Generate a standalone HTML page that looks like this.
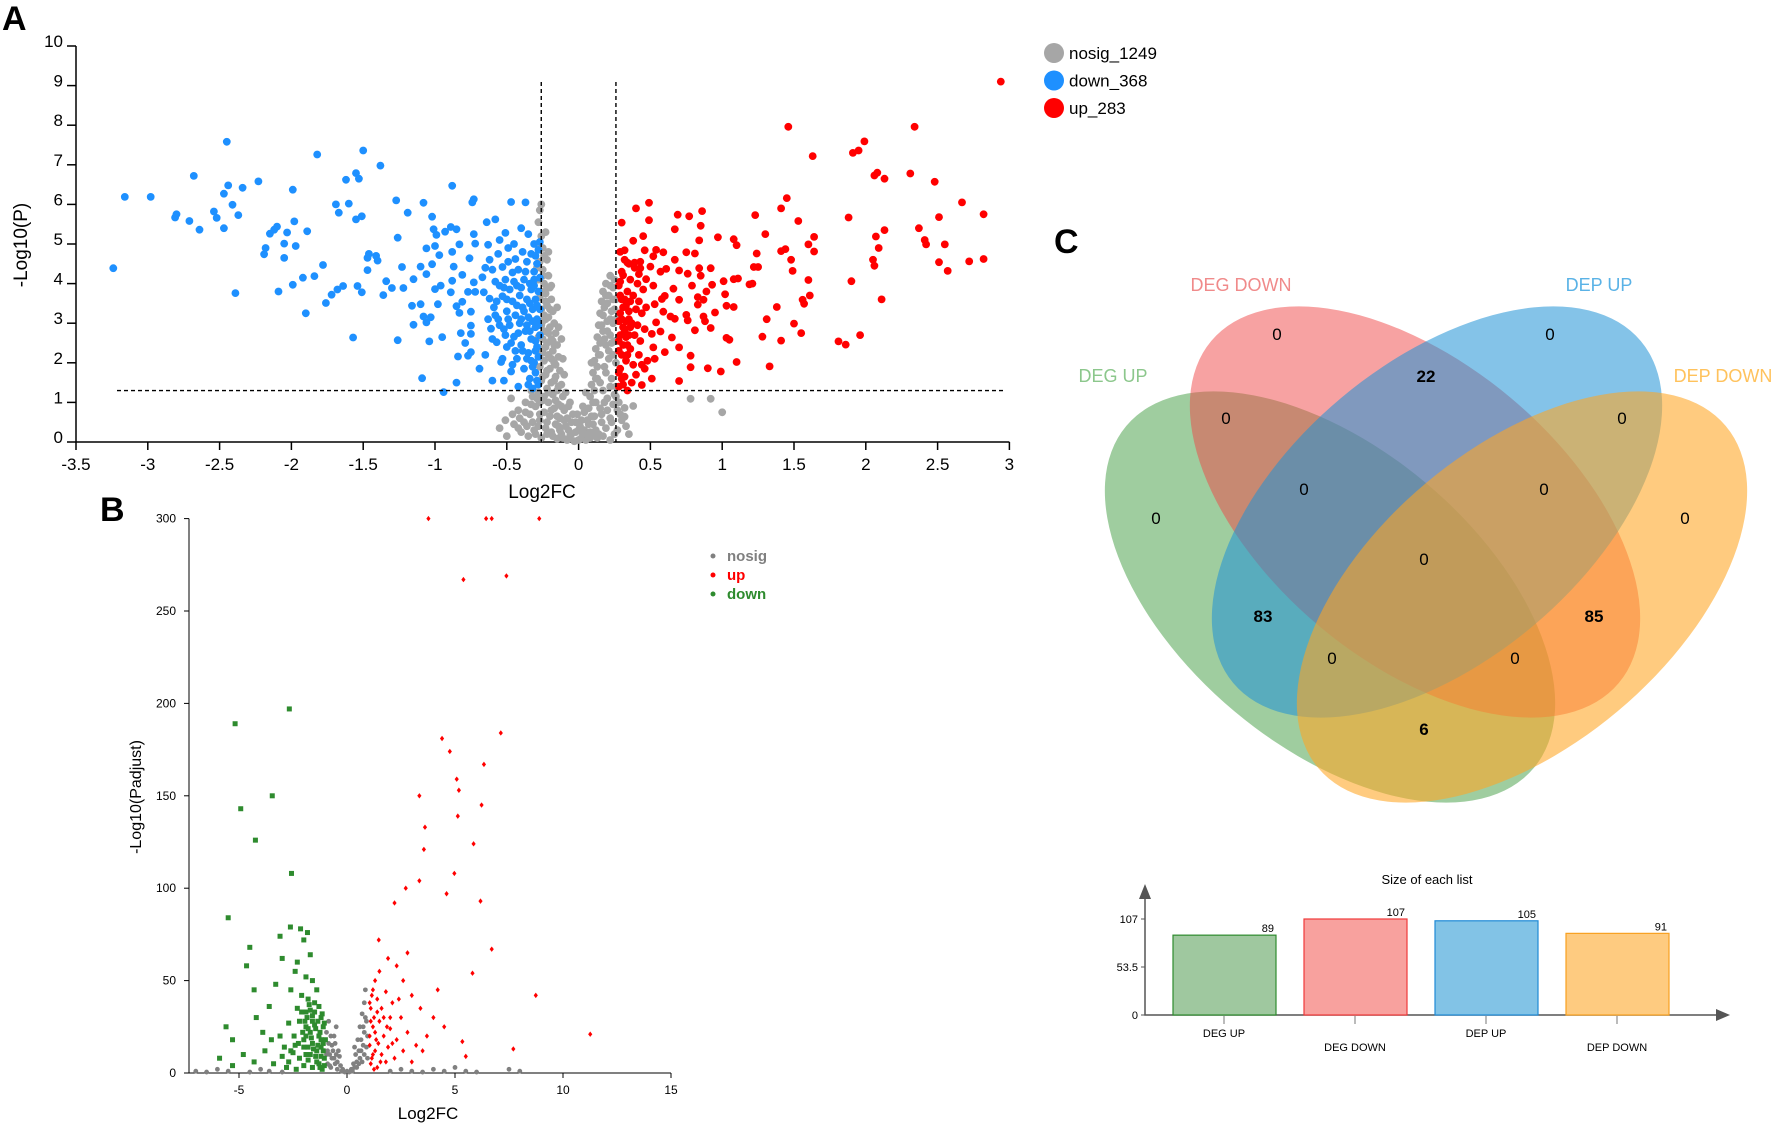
<!DOCTYPE html>
<html><head><meta charset="utf-8"><style>
html,body{margin:0;padding:0;background:#fff;}
svg{display:block;font-family:"Liberation Sans",sans-serif;}
</style></head><body>
<svg id="fig" width="1772" height="1126" viewBox="0 0 1772 1126" xmlns="http://www.w3.org/2000/svg">
<rect width="1772" height="1126" fill="#fff"/>
<text x="2" y="30" font-size="34" font-weight="bold">A</text>
<text x="100" y="521" font-size="34" font-weight="bold">B</text>
<text x="1054" y="253" font-size="34" font-weight="bold">C</text>
<g id="pa"></g>
<g id="pb"></g>
<g id="pc"></g>
<g id="pd"></g>
</svg>
<script>
// ---------- Panel A data ----------
const aXTicks = [-3.5,-3,-2.5,-2,-1.5,-1,-0.5,0,0.5,1,1.5,2,2.5,3];
const aYTicks = [0,1,2,3,4,5,6,7,8,9,10];
const aThresholdX = [-0.26, 0.26];
const aThresholdY = 1.3;
const aLegend = ["nosig_1249","down_368","up_283"];
const aDown = "-3.24,4.39 -3.16,6.19 -2.98,6.19 -2.81,5.67 -2.80,5.75 -2.71,5.58 -2.68,6.72 -2.64,5.36 -2.54,5.82 -2.52,5.66 -2.47,6.27 -2.47,5.40 -2.45,7.58 -2.44,6.48 -2.41,5.99 -2.39,3.76 -2.37,5.73 -2.34,6.42 -2.23,6.58 -2.19,4.74 -2.18,4.90 -2.15,5.26 -2.12,5.36 -2.10,5.44 -2.09,3.80 -2.05,5.01 -2.05,4.65 -2.03,5.29 -1.99,6.37 -1.99,3.97 -1.98,5.57 -1.97,4.95 -1.92,4.15 -1.90,3.25 -1.89,5.32 -1.84,4.19 -1.82,7.26 -1.78,4.47 -1.76,3.51 -1.72,3.72 -1.69,6.00 -1.67,5.79 -1.68,3.85 -1.64,3.94 -1.62,6.62 -1.60,6.02 -1.57,2.64 -1.55,6.79 -1.53,6.65 -1.55,5.62 -1.51,5.70 -1.54,3.94 -1.51,3.78 -1.50,7.36 -1.47,4.65 -1.46,4.75 -1.47,4.34 -1.41,4.70 -1.40,4.58 -1.38,6.98 -1.36,3.71 -1.34,4.06 -1.30,3.89 -1.27,6.10 -1.26,5.16 -1.26,2.57 -1.23,4.42 -1.22,3.89 -1.19,5.79 -1.16,3.44 -1.15,4.11 -1.15,2.96 -1.10,4.43 -1.10,3.48 -1.09,1.61 -1.08,6.04 -1.08,3.17 -1.06,4.89 -1.06,3.02 -1.03,3.15 -1.04,2.54 -1.02,5.69 -1.01,5.37 -1.00,4.95 -0.99,5.23 -1.02,4.49 -1.06,4.24 -1.00,3.86 -0.98,3.48 -0.97,4.72 -0.96,3.95 -0.95,2.65 -0.94,1.26 -0.93,5.31 -0.89,5.43 -0.88,6.47 -0.88,4.80 -0.87,4.43 -0.88,4.07 -0.89,3.78 -0.85,3.43 -0.85,5.37 -0.85,1.50 -0.84,2.16 -0.83,4.99 -0.83,3.26 -0.82,2.75 -0.81,4.22 -0.81,3.54 -0.79,2.50 -0.77,2.18 -0.77,3.79 -0.76,4.64 -0.75,3.29 -0.75,2.73 -0.74,6.05 -0.73,6.13 -0.75,2.94 -0.75,2.27 -0.73,4.03 -0.73,5.25 -0.72,5.01 -0.72,3.79 -0.69,1.85 -0.67,4.16 -0.66,3.78 -0.65,2.20 -0.64,5.55 -0.63,4.98 -0.62,4.60 -0.62,3.62 -0.61,2.86 -0.60,1.55 -0.60,4.35 -0.59,3.40 -0.58,5.62 -0.58,4.05 -0.57,2.52 -0.56,4.75 -0.56,3.10 -0.55,5.10 -0.55,3.95 -0.54,2.02 -0.53,4.42 -0.53,3.68 -0.52,1.55 -0.52,2.85 -0.51,5.28 -0.51,4.10 -0.50,3.30 -0.50,2.40 -0.49,4.90 -0.49,4.55 -0.48,3.85 -0.48,2.95 -0.47,6.06 -0.47,1.78 -0.46,4.28 -0.46,3.55 -0.45,2.66 -0.45,5.00 -0.44,3.20 -0.44,4.62 -0.43,2.10 -0.43,3.95 -0.42,1.40 -0.42,4.35 -0.41,3.00 -0.41,3.70 -0.40,2.45 -0.40,5.40 -0.39,4.80 -0.39,3.40 -0.38,1.85 -0.38,4.10 -0.37,2.80 -0.37,6.05 -0.36,3.60 -0.36,4.55 -0.35,2.25 -0.35,5.25 -0.35,3.15 -0.34,1.60 -0.34,4.00 -0.33,2.60 -0.33,3.85 -0.33,4.75 -0.32,1.35 -0.32,3.35 -0.31,2.00 -0.31,4.30 -0.31,5.00 -0.30,2.90 -0.30,3.60 -0.30,1.75 -0.29,4.50 -0.29,2.40 -0.29,3.10 -0.28,4.85 -0.28,3.80 -0.28,2.15 -0.28,1.45 -0.27,2.70 -0.27,3.35 -0.27,4.15 -0.27,5.05 -0.36,2.95 -0.40,3.90 -0.44,2.30 -0.46,1.95 -0.50,3.60 -0.53,2.10 -0.57,3.55 -0.33,2.05 -0.31,3.95 -0.38,3.30 -0.42,2.75 -0.35,1.45 -0.30,2.30 -0.34,3.50 -0.30,2.55 -0.32,3.05 -0.29,3.45 -0.31,4.10 -0.29,1.55 -0.32,1.90 -0.28,2.95 -0.30,4.70 -0.34,2.80 -0.36,2.10 -0.37,4.30 -0.39,2.30 -0.40,3.10 -0.43,3.45 -0.45,4.05 -0.47,2.50 -0.49,3.10 -0.51,2.70 -0.52,3.90 -0.55,2.95 -0.58,3.20 -0.60,2.60 -0.63,3.10 -0.65,4.40";
const aUp = "1.46,7.96 2.34,7.96 1.63,7.22 1.99,7.59 1.91,7.30 1.95,7.36 2.08,6.80 2.06,6.73 2.13,6.65 2.31,6.78 2.48,6.57 2.67,6.05 2.82,5.75 2.82,4.62 2.72,4.56 2.57,4.32 2.51,4.54 2.55,4.99 2.51,5.68 2.37,5.40 2.41,5.10 2.42,4.99 2.13,5.35 2.07,5.19 2.09,4.90 2.05,4.60 2.06,4.45 1.88,5.67 1.90,4.06 2.11,3.60 1.96,2.70 1.81,2.54 1.86,2.46 1.45,6.16 1.41,5.90 1.53,5.58 1.23,5.73 1.30,5.25 1.64,5.18 1.60,4.99 1.64,4.81 1.41,4.82 1.44,4.87 1.48,4.60 1.49,4.32 1.24,4.76 1.22,4.42 1.25,4.42 1.19,3.98 1.21,4.00 1.60,4.09 1.61,3.70 1.56,3.59 1.57,3.49 1.38,3.41 1.31,3.10 1.50,2.99 1.55,2.75 1.28,2.66 1.41,2.56 1.33,1.91 1.10,2.02 0.99,1.78 0.90,1.86 0.78,1.89 0.78,2.18 0.70,1.54 1.03,2.63 1.05,2.58 1.08,5.12 1.10,4.97 0.97,5.17 1.08,4.11 1.11,4.13 1.01,4.06 1.02,3.73 1.03,3.44 1.08,3.41 0.93,3.97 0.95,3.27 0.92,2.88 0.87,3.17 0.88,3.05 0.89,3.80 0.87,3.59 0.83,3.47 0.83,3.66 0.85,4.20 0.84,4.39 0.86,5.83 0.85,5.46 0.84,5.09 0.92,4.39 0.77,5.70 0.69,5.74 0.67,5.37 0.67,4.60 0.75,4.79 0.81,4.76 0.76,4.25 0.79,3.95 0.70,3.59 0.66,3.87 0.75,3.21 0.76,3.07 0.81,2.82 0.65,2.64 0.70,2.39 0.67,3.11 0.64,3.17 0.70,4.33 0.61,4.37 0.49,6.04 0.40,5.90 0.49,5.60 0.45,5.20 0.38,5.08 0.30,5.54 0.46,4.84 0.54,4.85 0.59,4.79 0.52,4.69 0.32,4.84 0.34,4.53 0.39,4.53 0.31,4.21 0.43,4.39 0.50,4.43 0.57,4.30 0.42,4.24 0.47,4.11 0.52,3.95 0.58,3.61 0.60,3.69 0.53,3.48 0.59,3.29 0.54,3.02 0.57,2.79 0.51,2.73 0.52,2.39 0.60,2.27 0.53,2.10 0.46,1.85 0.51,1.60 0.44,1.44 0.34,1.30 0.28,1.40 0.29,1.85 0.30,2.20 0.28,2.55 0.31,2.90 0.29,3.25 0.30,3.60 0.28,3.95 0.30,4.30 0.32,1.65 0.33,2.05 0.34,2.45 0.32,2.80 0.35,3.10 0.33,3.45 0.34,3.80 0.36,4.10 0.37,1.50 0.38,1.95 0.36,2.35 0.39,2.70 0.37,3.00 0.40,3.35 0.38,3.70 0.41,4.00 0.42,2.20 0.43,2.55 0.41,2.95 0.44,3.25 0.42,3.55 0.45,3.85 0.46,2.85 0.47,3.40 0.40,1.70 0.29,2.70 0.31,3.40 0.28,3.05 0.33,3.05 0.35,2.70 0.30,1.60 0.36,3.55 0.32,4.60 0.29,4.80 0.48,2.05 0.44,1.95 0.39,4.40 0.35,4.50 0.43,4.55 0.28,2.30 0.29,3.70 0.31,2.45 0.30,3.10 0.32,3.60 0.28,1.75 0.33,2.65 0.35,3.30 0.31,1.45 0.29,4.05 0.34,2.20 0.36,2.90 2.94,9.10";
const aNosig = "-0.27,5.85 -0.28,5.55 -0.26,5.2 -0.29,5.0 -0.25,4.9 -0.24,4.7 -0.27,4.55 -0.22,4.6 -0.25,4.35 -0.21,4.2 -0.28,4.1 -0.24,4.0 -0.20,3.9 -0.23,3.75 -0.27,3.65 -0.19,3.6 -0.22,3.45 -0.26,3.35 -0.18,3.3 -0.21,3.15 -0.25,3.05 -0.17,3.0 -0.20,2.9 -0.24,2.8 -0.16,2.75 -0.28,2.65 -0.19,2.6 -0.22,2.5 -0.15,2.45 -0.26,2.35 -0.18,2.3 -0.21,2.2 -0.14,2.15 -0.24,2.05 -0.17,2.0 -0.27,1.9 -0.20,1.85 -0.13,1.8 -0.23,1.7 -0.16,1.65 -0.26,1.55 -0.19,1.5 -0.12,1.45 -0.22,1.35 -0.15,1.3 -0.28,1.25 -0.18,1.2 -0.11,1.15 -0.25,1.05 -0.21,1.0 -0.14,0.95 -0.30,0.9 -0.17,0.85 -0.10,0.8 -0.24,0.75 -0.34,0.7 -0.20,0.65 -0.13,0.6 -0.27,0.55 -0.38,0.5 -0.16,0.45 -0.09,0.4 -0.23,0.35 -0.31,0.3 -0.19,0.25 -0.12,0.2 -0.06,0.15 -0.26,0.1 -0.15,0.08 -0.08,0.05 -0.03,0.02 -0.45,0.45 -0.5,0.15 -0.55,0.35 -0.42,0.8 -0.47,1.1 -0.37,1.0 -0.33,1.3 -0.29,1.1 -0.32,0.5 -0.4,0.25 -0.35,0.15 -0.23,5.3 -0.26,6.0 -0.29,4.4 -0.23,3.1 -0.25,2.6 -0.17,2.45 -0.19,3.95 -0.21,4.8 -0.15,3.4 -0.14,2.9 -0.12,2.6 -0.11,2.1 -0.10,1.7 -0.09,1.25 -0.07,0.9 -0.05,0.5 -0.02,0.25 0.02,0.1 0.04,0.3 0.06,0.55 0.07,0.85 0.08,1.15 0.09,1.45 0.10,1.75 0.11,2.05 0.12,2.35 0.13,2.65 0.14,2.95 0.15,3.25 0.16,3.55 0.17,3.8 0.19,4.0 0.22,4.2 0.25,4.1 0.24,3.9 0.21,3.7 0.26,3.6 0.18,3.4 0.23,3.3 0.26,3.1 0.20,3.05 0.17,2.8 0.22,2.7 0.25,2.55 0.19,2.45 0.15,2.2 0.21,2.1 0.26,2.0 0.18,1.9 0.13,1.6 0.23,1.6 0.26,1.4 0.17,1.3 0.12,1.0 0.20,1.1 0.24,0.95 0.16,0.7 0.22,0.6 0.10,0.45 0.19,0.35 0.14,0.2 0.08,0.1 0.27,0.8 0.27,0.3 0.30,0.55 0.32,0.86 0.32,0.64 0.38,0.91 0.78,1.09 0.92,1.09 1.0,0.75 0.00,0.05 0.01,0.4 -0.01,0.7 0.03,0.9 0.05,1.25 0.06,0.15 0.11,0.65 0.15,1.5 0.18,2.6 0.24,3.0 0.2,3.5 0.09,2.0 0.1,0.2 -0.25,4.2 -0.22,3.9 -0.26,3.8 -0.23,3.55 -0.20,3.35 -0.24,3.2 -0.26,2.95 -0.21,2.75 -0.18,2.55 -0.23,2.4 -0.25,2.25 -0.19,2.1 -0.16,1.95 -0.22,1.8 -0.25,1.65 -0.17,1.55 -0.14,1.4 -0.21,1.25 -0.24,1.15 -0.16,1.05 -0.12,0.9 -0.19,0.8 -0.27,0.7 -0.22,0.5 -0.14,0.4 -0.07,0.3 -0.18,0.15 -0.11,0.1 -0.3,0.2 -0.36,0.4 -0.28,0.4 -0.41,0.6 -0.37,0.75 -0.33,0.95 -0.27,1.0 -0.32,1.15 -0.28,1.45 -0.42,0.35 -0.46,0.7 -0.51,0.55 -0.04,0.7 -0.05,0.2 0.0,0.3 0.02,0.55 0.04,0.75 0.05,0.05 0.07,0.45 0.09,0.65 0.10,1.0 0.11,1.3 0.12,1.6 0.13,1.9 0.14,2.2 0.15,2.5 0.16,2.95 0.17,3.2 0.19,3.7 0.22,3.95 0.24,3.6 0.25,3.35 0.22,3.1 0.20,2.8 0.23,2.5 0.21,2.3 0.24,2.2 0.19,1.75 0.22,1.4 0.25,1.2 0.18,1.0 0.15,0.85 0.20,0.8 0.23,0.5 0.16,0.5 0.12,0.3 0.17,0.15 0.25,0.2 0.22,0.05 0.03,0.2 -0.02,0.5 0.08,0.25 -0.08,0.6 -0.06,1.0 0.13,0.1 -0.10,0.55 0.28,1.0 0.29,0.7 0.26,1.15 0.33,0.4 0.35,0.2 -0.13,0.3 -0.15,0.65 -0.22,0.2";

// ---------- Panel B data ----------
const bXTicks = [-5,0,5,10,15];
const bYTicks = [0,50,100,150,200,250,300];
const bLegend = ["nosig","up","down"];
const bDown = "-5.18,189 -2.67,197 -3.46,150 -4.92,143 -4.24,126 -2.57,108 -5.5,84 -2.62,79 -1.83,76 -2.0,72 -4.5,68 -3.1,74 -2.15,78 -4.65,58 -3.0,62 -2.3,60 -1.7,64 -2.4,55 -1.9,52 -1.6,50 -4.3,45 -3.3,48 -2.6,45 -1.4,45 -2.1,42 -1.8,40 -1.5,38 -1.3,36 -2.3,35 -1.9,33 -1.6,31 -1.2,30 -3.6,36 -4.2,30 -5.6,25 -5.3,18 -3.9,22 -3.1,20 -2.7,27 -2.2,28 -1.9,25 -1.7,22 -1.5,26 -1.3,20 -1.1,25 -2.4,15 -2.0,18 -1.8,14 -1.6,16 -1.4,12 -1.2,14 -1.0,18 -5.9,8 -5.3,4 -4.8,10 -4.3,6 -3.8,12 -3.4,5 -3.0,9 -2.7,6 -2.5,11 -2.2,8 -2.0,4 -1.8,7 -1.6,3 -1.4,6 -1.2,9 -1.05,4 -1.1,12 -2.9,14 -3.5,18 -1.7,10 -1.35,28 -2.1,33 -1.75,37 -1.5,33 -1.25,22 -1.1,16 -1.05,8 -1.15,2 -1.3,5 -1.45,9 -1.55,13 -1.65,19 -1.8,24 -1.95,28 -2.05,22 -2.25,16 -2.45,20 -2.6,12 -2.8,3 -2.35,2 -1.9,10 -1.35,15 -1.2,18 -1.45,24 -1.6,28 -1.7,34 -1.85,30 -2.0,14 -1.25,3 -1.05,27 -1.15,32 -1.9,20";
const bUp = "3.77,300 6.44,300 6.7,300 8.9,300 5.39,267 7.38,269 7.12,184 4.4,181 4.76,174 6.34,167 5.08,159 5.18,153 3.35,150 6.23,145 5.13,139 3.61,133 5.86,124 3.56,121 4.97,108 3.35,104 2.72,100 4.61,97 6.18,93 2.2,92 1.47,72 6.7,67 5.81,54 8.74,42 7.7,13 11.26,21 5.34,17 1.2,45 1.5,55 1.9,62 2.3,58 2.6,50 1.1,35 1.4,40 1.8,44 2.1,38 2.5,30 3.0,42 3.4,35 4.0,30 4.5,25 1.2,25 1.5,28 1.7,20 2.0,24 2.3,18 2.8,22 3.2,15 3.7,20 1.05,15 1.3,12 1.6,10 1.9,14 2.2,8 2.6,12 3.0,6 1.1,5 1.4,3 1.8,6 1.05,20 1.15,8 1.25,30 1.35,18 2.4,40 2.8,65 3.5,12 5.5,9 2.0,30 1.6,35 1.3,50 4.2,45 1.1,28 1.2,10 1.3,22 1.45,16 1.55,6 1.7,30 1.85,25 2.1,16 1.05,38 1.15,42 1.4,33 1.25,2";
const bNosig = "-0.9,5 -0.8,10 -0.7,15 -0.6,20 -0.5,25 -0.3,4 -0.4,12 0.4,10 0.5,18 0.6,25 0.7,32 0.8,38 0.3,5 0.2,2 -0.2,2 0,1 -0.1,0.5 0.1,0.5 0.9,28 0.95,20 -0.95,22 -0.85,28 0.6,8 -0.6,8 0.75,15 -0.75,3 0.85,45 -7,1 -6,2 -5.5,1 -4.5,0.5 -4,2 -3.6,1 2,1 2.5,2 3,1 3.5,0.5 4,2 4.5,1 5,3 5.5,1 6,0.5 7.5,2 8,1 -6.5,0.5 -3,0.5 -0.45,6 -0.35,9 0.45,6 0.35,14 -0.55,16 0.65,12 -0.9,12 -0.8,4 -0.7,8 -0.65,12 -0.55,5 -0.45,2 -0.25,1 0.25,1 0.35,3 0.45,3 0.55,5 0.55,12 0.65,18 0.7,6 0.8,22 0.85,30 0.9,14 0.95,8 0.75,25 0.8,10 -0.85,16 -0.95,10 -0.75,20 -0.5,10";

// ---------- Panel C / bar data ----------
const vennSets = ["DEG UP","DEG DOWN","DEP UP","DEP DOWN"];
const vennCounts = [0,0,22,0,0,0,0,0,0,0,83,85,0,0,6];
const barCategories = ["DEG UP","DEG DOWN","DEP UP","DEP DOWN"];
const barValues = [89,107,105,91];
const barTicks = [0,53.5,107];

const NS="http://www.w3.org/2000/svg";
function mk(parent,tag,attrs,text){const e=document.createElementNS(NS,tag);for(const k in attrs)e.setAttribute(k,attrs[k]);if(text!==undefined)e.textContent=text;parent.appendChild(e);return e;}
function parsePts(s){return s.trim().split(/\s+/).map(p=>p.split(',').map(Number));}

// ===== Panel A =====
(function(){
const g=document.getElementById('pa');
const X=v=>76+(v+3.5)*143.6, Y=v=>442-v*39.6;
const ax=mk(g,'path',{d:`M${X(-3.5)},${Y(10)} V${Y(0)} H${X(3)}`,stroke:'#000','stroke-width':1.5,fill:'none'});


aYTicks.forEach(t=>{
 mk(g,'line',{x1:X(-3.5)-9,x2:X(-3.5),y1:Y(t),y2:Y(t),stroke:'#000','stroke-width':1.5});
 const tx=mk(g,'text',{x:X(-3.5)-13,y:Y(t)+1,'font-size':17,'text-anchor':'end'},String(t));
 
 
});
aXTicks.forEach(t=>{
 mk(g,'line',{x1:X(t),x2:X(t),y1:Y(0),y2:Y(0)+8,stroke:'#000','stroke-width':1.5});
 const tx=mk(g,'text',{x:X(t),y:Y(0)+28,'font-size':17,'text-anchor':'middle'},String(t));
 
 
});
const xt=mk(g,'text',{x:542,y:498,'font-size':19,'text-anchor':'middle'},'Log2FC');


const yt=mk(g,'text',{x:0,y:0,'font-size':19,'text-anchor':'middle',transform:'translate(27,245) rotate(-90)'},'-Log10(P)');


const sets=[[aNosig,'#a6a6a6','nosig-point'],[aDown,'#1e90ff','down-point'],[aUp,'#ff0000','up-point']];
sets.forEach(([s,c,n])=>parsePts(s).forEach(([x,y])=>{
 const d=mk(g,'circle',{cx:X(x).toFixed(1),cy:Y(y).toFixed(1),r:3.9,fill:c});
 
 
}));
aThresholdX.forEach(t=>{
 const l=mk(g,'line',{x1:X(t),x2:X(t),y1:82,y2:Y(0),stroke:'#000','stroke-width':1.4,'stroke-dasharray':'4,3'});
 
 
});
const hl=mk(g,'line',{x1:117,x2:1003,y1:Y(aThresholdY),y2:Y(aThresholdY),stroke:'#000','stroke-width':1.4,'stroke-dasharray':'4,3'});


const lc=['#a6a6a6','#1e90ff','#ff0000'];
aLegend.forEach((t,i)=>{
 const c=mk(g,'circle',{cx:1054,cy:53+i*27.5,r:10,fill:lc[i]});
 
 
 const tx=mk(g,'text',{x:1069,y:59+i*27.5,'font-size':17},t);
 
 
});
})();

// ===== Panel B =====
(function(){
const g=document.getElementById('pb');
const X=v=>347+v*21.6, Y=v=>1073-v*1.848;
const ax=mk(g,'path',{d:`M189,${Y(300)} V${Y(0)} H${X(15)}`,stroke:'#000','stroke-width':1,fill:'none'});


bYTicks.forEach(t=>{
 mk(g,'line',{x1:184,x2:189,y1:Y(t),y2:Y(t),stroke:'#000'});
 const tx=mk(g,'text',{x:176,y:Y(t)+4,'font-size':12,'text-anchor':'end'},String(t));
 
 
});
bXTicks.forEach(t=>{
 mk(g,'line',{x1:X(t),x2:X(t),y1:Y(0),y2:Y(0)+5,stroke:'#000'});
 const tx=mk(g,'text',{x:X(t),y:Y(0)+21,'font-size':12,'text-anchor':'middle'},String(t));
 
 
});
const xt=mk(g,'text',{x:428,y:1119,'font-size':17,'text-anchor':'middle'},'Log2FC');


const yt=mk(g,'text',{x:0,y:0,'font-size':16,'text-anchor':'middle',transform:'translate(141,797) rotate(-90)'},'-Log10(Padjust)');


parsePts(bNosig).forEach(([x,y])=>{
 const d=mk(g,'circle',{cx:X(x),cy:Y(y),r:2.4,fill:'#808080'});
 
 
});
parsePts(bDown).forEach(([x,y])=>{
 const d=mk(g,'rect',{x:X(x)-2.5,y:Y(y)-2.5,width:5,height:5,fill:'#2e8b2e'});
 
 
});
parsePts(bUp).forEach(([x,y])=>{
 const cx=X(x),cy=Y(y);
 const d=mk(g,'path',{d:`M${cx},${cy-2.7}L${cx+2.1},${cy}L${cx},${cy+2.7}L${cx-2.1},${cy}Z`,fill:'#ff0000'});
 
 
});
const lc=['#808080','#ff0000','#2e8b2e'];
bLegend.forEach((t,i)=>{
 const m=mk(g,'circle',{cx:713,cy:556+i*19,r:2.5,fill:lc[i]});
 
 
 const tx=mk(g,'text',{x:727,y:561+i*19,'font-size':15,'font-weight':'bold',fill:lc[i]},t);
 
 
});
})();

// ===== Panel C Venn =====
(function(){
const g=document.getElementById('pc');
const ell=[
 {cx:1330,cy:597,rot:40,fill:'#3f9b3f',op:0.5,name:'deg-up-ellipse'},
 {cx:1415,cy:512,rot:40,fill:'#f04545',op:0.5,name:'deg-down-ellipse'},
 {cx:1437,cy:512,rot:-40,fill:'#1f92d6',op:0.55,name:'dep-up-ellipse'},
 {cx:1522,cy:597,rot:-40,fill:'#ffa522',op:0.58,name:'dep-down-ellipse'}];
ell.forEach(e=>{
 const el=mk(g,'ellipse',{cx:e.cx,cy:e.cy,rx:266,ry:149,fill:e.fill,'fill-opacity':e.op,transform:`rotate(${e.rot} ${e.cx} ${e.cy})`});
 
 
});
const lblPos=[[1113,382,'#8cc78c'],[1241,291,'#f08a8a'],[1599,291,'#5ab2e6'],[1723,382,'#ffc25c']];
vennSets.forEach((s,i)=>{
 const t=mk(g,'text',{x:lblPos[i][0],y:lblPos[i][1],'font-size':18,'text-anchor':'middle',fill:lblPos[i][2]},s);
 
 
});
const regionPos=[[1277,340],[1550,340],[1426,382],[1226,424],[1622,424],[1156,524],[1685,524],[1304,495],[1544,495],[1424,565],[1263,622],[1594,622],[1332,664],[1515,664],[1424,735]];
vennCounts.forEach((c,i)=>{
 const t=mk(g,'text',{x:regionPos[i][0],y:regionPos[i][1],'font-size':17,'text-anchor':'middle','font-weight':c>0?'bold':'normal'},String(c));
 
 
});
})();

// ===== Bar chart =====
(function(){
const g=document.getElementById('pd');
const BASE=1015, TOP107=919;
const Y=v=>BASE-v*((BASE-TOP107)/107);
const colors=[['#9fc89f','#2e8b2e'],['#f8a19e','#f03a3a'],['#82c3e6','#1f8ad6'],['#fecb80','#f8a020']];
const t=mk(g,'text',{x:1427,y:884,'font-size':13,'text-anchor':'middle'},'Size of each list');


const ax=mk(g,'path',{d:`M1145,898 V${BASE} H1718`,stroke:'#555','stroke-width':1.5,fill:'none'});


mk(g,'path',{d:'M1139,899 L1145,884 L1151,899 Z',fill:'#555'});
mk(g,'path',{d:`M1716,${BASE-6} L1730,${BASE} L1716,${BASE+6} Z`,fill:'#555'});
barTicks.forEach(v=>{
 mk(g,'line',{x1:1141,x2:1145,y1:Y(v),y2:Y(v),stroke:'#555'});
 const tx=mk(g,'text',{x:1138,y:Y(v)+4,'font-size':11,'text-anchor':'end'},String(v));
 
 
});
barValues.forEach((v,i)=>{
 const x=1173+i*131;
 const r=mk(g,'rect',{x:x,y:Y(v),width:103,height:Y(0)-Y(v),fill:colors[i][0],stroke:colors[i][1],'stroke-width':1.2});
 
 
 const vl=mk(g,'text',{x:x+101,y:Y(v)-3,'font-size':11,'text-anchor':'end'},String(v));
 
 
 mk(g,'line',{x1:x+51,x2:x+51,y1:BASE+1,y2:BASE+9,stroke:'#777'});
 const cl=mk(g,'text',{x:x+51,y:i%2?BASE+36:BASE+22,'font-size':11,'text-anchor':'middle'},barCategories[i]);
 
 
});
})();
</script>
</body></html>
